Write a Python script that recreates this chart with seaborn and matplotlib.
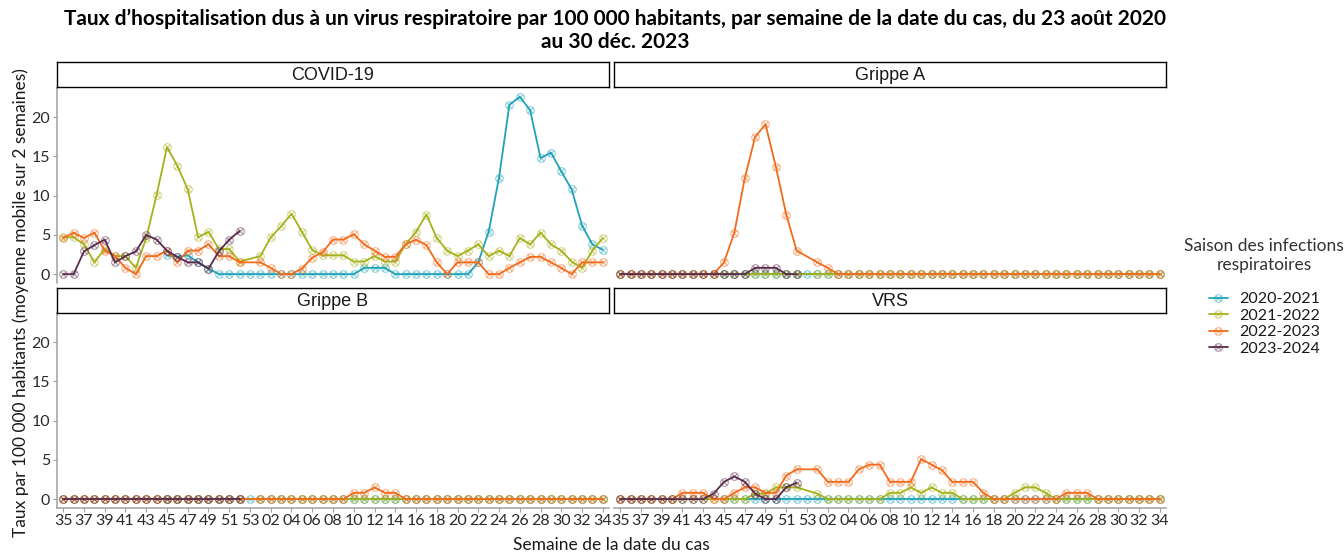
import numpy as np
import pandas as pd
import matplotlib
matplotlib.use('Agg')
import matplotlib.pyplot as plt
from matplotlib.path import Path
import seaborn as sns

nan = np.nan

# week labels, season year starts at week 35
weeks = [str(w) for w in range(35, 54)] + [f'{w:02d}' for w in range(1, 35)]
seasons = ['2020-2021', '2021-2022', '2022-2023', '2023-2024']
viruses = ['COVID-19', 'Grippe A', 'Grippe B', 'VRS']
season_colors = ['#1FA2B6', '#A6B11B', '#F26B1C', '#5A2C4C']

# rows: weeks 35-44 / 45-53 / 01-10 / 11-20 / 21-30 / 31-34
covid_2020 = [nan, nan, nan, nan, nan, nan, nan, nan, nan, nan,
              2.4, 2.2, 2.4, 1.5, 0.7, 0.0, 0.0, 0.0, 0.0,
              0.0, 0.0, 0.0, 0.0, 0.0, 0.0, 0.0, 0.0, 0.0, 0.0,
              0.8, 0.8, 0.8, 0.0, 0.0, 0.0, 0.0, 0.0, 0.0, 0.0,
              0.0, 1.5, 5.4, 12.3, 21.6, 22.6, 20.9, 14.8, 15.5, 13.1,
              10.8, 6.2, 3.8, 3.1]
covid_2021 = [4.7, 4.7, 3.8, 1.5, 3.2, 2.3, 2.3, 0.8, 4.6, 10.1,
              16.2, 13.8, 10.8, 4.7, 5.4, 3.2, 3.2, 1.6, nan,
              2.3, 4.7, 6.1, 7.7, 5.4, 3.1, 2.4, 2.4, 2.4, 1.6,
              1.6, 2.3, 1.6, 1.6, 3.8, 5.4, 7.6, 4.6, 3.0, 2.3,
              3.0, 3.8, 2.3, 3.0, 2.3, 4.6, 3.8, 5.3, 3.8, 3.0,
              1.6, 0.8, 3.0, 4.6]
covid_2022 = [4.6, 5.3, 4.6, 5.3, 3.0, 2.3, 0.8, 0.0, 2.3, 2.3,
              3.0, 1.5, 3.0, 3.0, 3.8, 2.3, 2.3, 1.5, nan,
              1.5, 0.8, 0.0, 0.0, 0.7, 2.1, 2.8, 4.4, 4.4, 5.1,
              3.8, 3.0, 2.2, 2.2, 3.8, 4.4, 3.7, 1.5, 0.0, 1.5,
              1.5, 1.5, 0.0, 0.0, 0.8, 1.5, 2.2, 2.2, 1.5, 0.8,
              0.0, 1.5, 1.5, 1.5]
covid_2023 = [0.0, 0.0, 2.9, 3.7, 4.4, 1.5, 2.3, 2.9, 5.0, 4.4,
              3.0, 2.2, 1.5, 1.5, 0.7, 2.9, 4.4, 5.5]

flu_a_2020 = [nan, nan, nan, nan, nan, nan, nan, nan, nan, nan,
              0.0, 0.0, 0.0, 0.0, 0.0, 0.0, 0.0, 0.0, 0.0,
              0.0, 0.0, 0.0, 0.0, 0.0, 0.0, 0.0, 0.0, 0.0, 0.0,
              0.0, 0.0, 0.0, 0.0, 0.0, 0.0, 0.0, 0.0, 0.0, 0.0,
              0.0, 0.0, 0.0, 0.0, 0.0, 0.0, 0.0, 0.0, 0.0, 0.0,
              0.0, 0.0, 0.0, 0.0]
flu_a_2021 = [0.0, 0.0, 0.0, 0.0, 0.0, 0.0, 0.0, 0.0, 0.0, 0.0,
              0.0, 0.0, 0.0, 0.0, 0.0, 0.0, 0.0, 0.0, nan,
              0.0, 0.0, 0.0, 0.0, 0.0, 0.0, 0.0, 0.0, 0.0, 0.0,
              0.0, 0.0, 0.0, 0.0, 0.0, 0.0, 0.0, 0.0, 0.0, 0.0,
              0.0, 0.0, 0.0, 0.0, 0.0, 0.0, 0.0, 0.0, 0.0, 0.0,
              0.0, 0.0, 0.0, 0.0]
flu_a_2022 = [0.0, 0.0, 0.0, 0.0, 0.0, 0.0, 0.0, 0.0, 0.0, 0.0,
              1.5, 5.3, 12.2, 17.5, 19.1, 13.7, 7.6, 3.0, nan,
              1.5, 0.8, 0.0, 0.0, 0.0, 0.0, 0.0, 0.0, 0.0, 0.0,
              0.0, 0.0, 0.0, 0.0, 0.0, 0.0, 0.0, 0.0, 0.0, 0.0,
              0.0, 0.0, 0.0, 0.0, 0.0, 0.0, 0.0, 0.0, 0.0, 0.0,
              0.0, 0.0, 0.0, 0.0]
flu_a_2023 = [0.0, 0.0, 0.0, 0.0, 0.0, 0.0, 0.0, 0.0, 0.0, 0.0,
              0.0, 0.0, 0.0, 0.8, 0.8, 0.8, 0.0, 0.0]

flu_b_2020 = [nan, nan, nan, nan, nan, nan, nan, nan, nan, nan,
              0.0, 0.0, 0.0, 0.0, 0.0, 0.0, 0.0, 0.0, 0.0,
              0.0, 0.0, 0.0, 0.0, 0.0, 0.0, 0.0, 0.0, 0.0, 0.0,
              0.0, 0.0, 0.0, 0.0, 0.0, 0.0, 0.0, 0.0, 0.0, 0.0,
              0.0, 0.0, 0.0, 0.0, 0.0, 0.0, 0.0, 0.0, 0.0, 0.0,
              0.0, 0.0, 0.0, 0.0]
flu_b_2021 = [0.0, 0.0, 0.0, 0.0, 0.0, 0.0, 0.0, 0.0, 0.0, 0.0,
              0.0, 0.0, 0.0, 0.0, 0.0, 0.0, 0.0, 0.0, nan,
              0.0, 0.0, 0.0, 0.0, 0.0, 0.0, 0.0, 0.0, 0.0, 0.0,
              0.0, 0.0, 0.0, 0.0, 0.0, 0.0, 0.0, 0.0, 0.0, 0.0,
              0.0, 0.0, 0.0, 0.0, 0.0, 0.0, 0.0, 0.0, 0.0, 0.0,
              0.0, 0.0, 0.0, 0.0]
flu_b_2022 = [0.0, 0.0, 0.0, 0.0, 0.0, 0.0, 0.0, 0.0, 0.0, 0.0,
              0.0, 0.0, 0.0, 0.0, 0.0, 0.0, 0.0, 0.0, nan,
              0.0, 0.0, 0.0, 0.0, 0.0, 0.0, 0.0, 0.0, 0.0, 0.8,
              0.8, 1.5, 0.8, 0.8, 0.0, 0.0, 0.0, 0.0, 0.0, 0.0,
              0.0, 0.0, 0.0, 0.0, 0.0, 0.0, 0.0, 0.0, 0.0, 0.0,
              0.0, 0.0, 0.0, 0.0]
flu_b_2023 = [0.0, 0.0, 0.0, 0.0, 0.0, 0.0, 0.0, 0.0, 0.0, 0.0,
              0.0, 0.0, 0.0, 0.0, 0.0, 0.0, 0.0, 0.0]

rsv_2020 = [nan, nan, nan, nan, nan, nan, nan, nan, nan, nan,
            0.0, 0.0, 0.0, 0.0, 0.0, 0.0, 0.0, 0.0, 0.0,
            0.0, 0.0, 0.0, 0.0, 0.0, 0.0, 0.0, 0.0, 0.0, 0.0,
            0.0, 0.0, 0.0, 0.0, 0.0, 0.0, 0.0, 0.0, 0.0, 0.0,
            0.0, 0.0, 0.0, 0.0, 0.0, 0.0, 0.0, 0.0, 0.0, 0.0,
            0.0, 0.0, 0.0, 0.0]
rsv_2021 = [0.0, 0.0, 0.0, 0.0, 0.0, 0.0, 0.0, 0.0, 0.0, 0.0,
            0.0, 0.0, 0.0, 0.7, 0.7, 1.5, 1.5, 1.5, nan,
            0.7, 0.0, 0.0, 0.0, 0.0, 0.0, 0.0, 0.8, 0.8, 1.5,
            0.8, 1.5, 0.8, 0.8, 0.0, 0.0, 0.0, 0.0, 0.0, 0.8,
            1.5, 1.5, 0.8, 0.0, 0.0, 0.0, 0.0, 0.0, 0.0, 0.0,
            0.0, 0.0, 0.0, 0.0]
rsv_2022 = [0.0, 0.0, 0.0, 0.0, 0.0, 0.0, 0.8, 0.8, 0.8, 0.0,
            0.0, 0.8, 1.5, 1.5, 0.8, 0.8, 3.0, 3.8, nan,
            3.8, 2.2, 2.2, 2.2, 3.8, 4.4, 4.4, 2.2, 2.2, 2.2,
            5.1, 4.4, 3.7, 2.2, 2.2, 2.2, 0.8, 0.0, 0.0, 0.0,
            0.0, 0.0, 0.0, 0.0, 0.8, 0.8, 0.8, 0.0, 0.0, 0.0,
            0.0, 0.0, 0.0, 0.0]
rsv_2023 = [0.0, 0.0, 0.0, 0.0, 0.0, 0.0, 0.0, 0.0, 0.0, 0.7,
            2.2, 2.9, 2.2, 0.7, 0.0, 0.0, 1.5, 2.1]

series = {
    'COVID-19': [covid_2020, covid_2021, covid_2022, covid_2023],
    'Grippe A': [flu_a_2020, flu_a_2021, flu_a_2022, flu_a_2023],
    'Grippe B': [flu_b_2020, flu_b_2021, flu_b_2022, flu_b_2023],
    'VRS': [rsv_2020, rsv_2021, rsv_2022, rsv_2023],
}

rows = []
for virus in viruses:
    for season, vals in zip(seasons, series[virus]):
        for pos, (wk, v) in enumerate(zip(weeks, vals)):
            rows.append({'virus': virus, 'season': season, 'pos': pos, 'week': wk, 'rate': v})
df = pd.DataFrame(rows).dropna()

# circle with a cross inside (like ggplot shape 13)
d = np.sqrt(0.5)
cross = Path([(-d, -d), (d, d), (-d, d), (d, -d)],
             [Path.MOVETO, Path.LINETO, Path.MOVETO, Path.LINETO])
circ_x = Path.make_compound_path(Path.unit_circle(), cross)

sns.set_theme(style='white')
plt.rcParams['font.family'] = ['Lato', 'DejaVu Sans']
plt.rcParams['text.color'] = '#1a1a1a'

W, H = 1344, 552
fig = plt.figure(figsize=(W / 100, H / 100), dpi=100)


def px_rect(x0, y0, x1, y1):
    return [x0 / W, 1 - y1 / H, (x1 - x0) / W, (y1 - y0) / H]


panel_px = {
    'COVID-19': (57, 88, 609, 283),
    'Grippe A': (614, 88, 1166, 283),
    'Grippe B': (57, 313, 609, 508),
    'VRS': (614, 313, 1166, 508),
}

axes = {}
for i, virus in enumerate(viruses):
    x0, y0, x1, y1 = panel_px[virus]
    ax = fig.add_axes(px_rect(x0, y0, x1, y1))
    axes[virus] = ax
    sub = df[df['virus'] == virus]
    for season, color in zip(seasons, season_colors):
        part = sub[sub['season'] == season]
        sns.lineplot(data=part, x='pos', y='rate', ax=ax, color=color, lw=1.3,
                     marker=circ_x, markersize=5.5, mfc='none',
                     mec=matplotlib.colors.to_rgba(color, 0.5), mew=0.8,
                     label=season, legend=False)
    ax.set_xlim(-0.6, 52.6)
    ax.set_ylim(-1.13, 23.73)
    ax.set_xlabel('')
    ax.set_ylabel('')
    ax.set_xticks(range(0, 53, 2))
    ax.set_yticks([0, 5, 10, 15, 20])
    for s in ax.spines.values():
        s.set_visible(False)
    left = i % 2 == 0
    bottom = i >= 2
    if left:
        ax.spines['left'].set_visible(True)
        ax.spines['left'].set_color('#a0a0a0')
        ax.spines['left'].set_linewidth(1.1)
        ax.set_yticklabels(['0', '5', '10', '15', '20'])
    else:
        ax.set_yticklabels([])
    if bottom:
        ax.spines['bottom'].set_visible(True)
        ax.spines['bottom'].set_color('#a0a0a0')
        ax.spines['bottom'].set_linewidth(1.1)
        ax.set_xticklabels(weeks[::2])
    else:
        ax.set_xticklabels([])
    ax.tick_params(axis='y', left=left, length=3, width=0.8, color='#a0a0a0',
                   labelsize=11.5, labelcolor='#2a2a2a', pad=2)
    ax.tick_params(axis='x', bottom=bottom, length=3, width=0.8, color='#a0a0a0',
                   labelsize=11.5, labelcolor='#2a2a2a', pad=1)

    # facet strip
    sy0, sy1 = (62, 87) if i < 2 else (288, 313)
    sax = fig.add_axes(px_rect(x0, sy0, x1, sy1))
    sax.set_xticks([])
    sax.set_yticks([])
    sax.set_facecolor('white')
    for s in sax.spines.values():
        s.set_color('black')
        s.set_linewidth(1.0)
    sax.text(0.5, 0.47, virus, ha='center', va='center', fontsize=13,
             family=['Liberation Sans', 'DejaVu Sans'], color='#1a1a1a')

fig.text(615 / W, 1 - 9 / H,
         "Taux d’hospitalisation dus à un virus respiratoire par 100 000 habitants, "
         "par semaine de la date du cas, du 23 août 2020\nau 30 déc. 2023",
         ha='center', va='top', fontsize=15, fontweight='bold', linespacing=1.15,
         color='black')
fig.text(611 / W, 1 - 545 / H, 'Semaine de la date du cas', ha='center', va='center',
         fontsize=12.5)
fig.text(21 / W, 1 - 303 / H, 'Taux par 100 000 habitants (moyenne mobile sur 2 semaines)',
         ha='center', va='center', rotation=90, fontsize=12.5)

handles, labels = axes['COVID-19'].get_legend_handles_labels()
leg = fig.legend(handles, labels, title='Saison des infections\nrespiratoires',
                 loc='center left', bbox_to_anchor=(1170 / W, 1 - 297 / H), frameon=False,
                 fontsize=11.5, title_fontsize=12.5, handlelength=1.2, handletextpad=0.7,
                 labelspacing=0.15, alignment='center')
leg.get_title().set_multialignment('center')
leg.get_title().set_color('#333333')
leg._legend_box.sep = 14

fig.savefig('out.png', dpi=100)
